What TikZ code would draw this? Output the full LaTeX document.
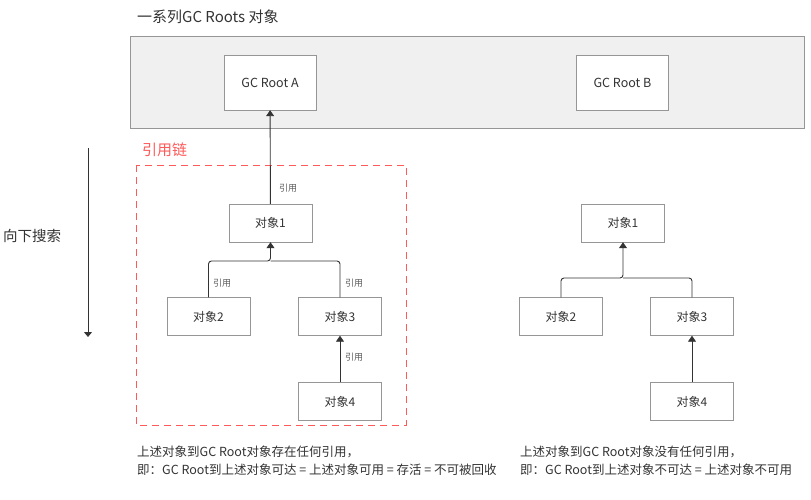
\documentclass[tikz,border=0pt]{standalone}
\usepackage{fontspec}
\setmainfont{Noto Sans CJK SC}
\usetikzlibrary{arrows.meta}

\definecolor{linegray}{RGB}{150,150,150}
\definecolor{panelgray}{RGB}{240,240,240}
\definecolor{inkcolor}{RGB}{51,51,51}
\definecolor{chainred}{RGB}{255,90,90}

\tikzset{
  objbox/.style={draw=linegray, fill=white, minimum width=83pt, minimum height=38pt, inner sep=0pt, text=inkcolor, font=\fontsize{12}{14}\selectfont},
  rootbox/.style={objbox, minimum width=92pt, minimum height=55pt, font=\fontsize{12.5}{14}\selectfont},
  reflabel/.style={text=inkcolor!80, font=\fontsize{9}{10}\selectfont, inner sep=0pt},
  ref/.style={draw=inkcolor, line width=0.9pt, -{Triangle[width=8pt,length=6pt]}},
  note/.style={anchor=west, align=left, inner sep=0pt, text=inkcolor, font=\fontsize{12.5}{18}\selectfont}
}

\begin{document}
\begin{tikzpicture}[x=1pt, y=-1pt]
\useasboundingbox (0,0) rectangle (811,500);

% Panel of GC roots
\node[anchor=west, inner sep=0pt, text=inkcolor, font=\fontsize{15}{16}\selectfont] (title) at (137,17) {一系列GC Roots 对象};
\draw[draw=linegray, fill=panelgray, line width=0.8pt] (130,36) rectangle (804,128);
\node[rootbox] (rootA) at (270,82.5) {GC Root A};
\node[rootbox] (rootB) at (622.5,82.5) {GC Root B};

% Search direction
\node[anchor=west, inner sep=0pt, text=inkcolor, font=\fontsize{14.5}{16}\selectfont] (search) at (3,236) {向下搜索};
\coordinate (stop) at (88,148);
\coordinate (sbot) at (88,337);
\draw[draw=inkcolor, line width=0.9pt, -{Triangle[width=8pt,length=5pt]}] (stop) -- (sbot);

% Reference chain (left)
\node[anchor=west, inner sep=0pt, text=chainred, font=\fontsize{15}{16}\selectfont] (chain) at (142,150) {引用链};
\draw[draw=chainred, dashed, dash pattern=on 7pt off 5pt, line width=0.9pt] (136,165) rectangle (406,425);

\node[objbox] (o1l) at (270.5,223) {对象1};
\node[objbox] (o2l) at (208.5,316.5) {对象2};
\node[objbox] (o3l) at (340,316.5) {对象3};
\node[objbox] (o4l) at (340,401.5) {对象4};
\coordinate (jl) at (270.5,261);

\draw[ref] (o1l) -- (rootA);
\draw[ref, rounded corners=3pt] (o2l.north) |- (jl) -- (o1l.south);
\draw[draw=inkcolor, line width=0.9pt, rounded corners=3pt] (o3l.north) |- (jl);
\draw[ref] (o4l) -- (o3l);

\node[reflabel] (r1) at (288,188) {引用};
\node[reflabel] (r2) at (222,283) {引用};
\node[reflabel] (r3) at (354,283) {引用};
\node[reflabel] (r4) at (354,357) {引用};

% Unreachable objects (right)
\node[objbox] (o1r) at (623,223) {对象1};
\node[objbox] (o2r) at (561,316.5) {对象2};
\node[objbox] (o3r) at (692,316.5) {对象3};
\node[objbox] (o4r) at (692,401.5) {对象4};
\coordinate (jr) at (623,278);

\draw[ref, rounded corners=3pt] (o2r.north) |- (jr) -- (o1r.south);
\draw[draw=inkcolor, line width=0.9pt, rounded corners=3pt] (o3r.north) |- (jr);
\draw[ref] (o4r) -- (o3r);

% Notes
\node[note] (noteL) at (137,461) {上述对象到GC Root对象存在任何引用，\\即：GC Root到上述对象可达 = 上述对象可用 = 存活 = 不可被回收};
\node[note] (noteR) at (520,461) {上述对象到GC Root对象没有任何引用，\\即：GC Root到上述对象不可达 = 上述对象不可用};

\end{tikzpicture}
\end{document}
